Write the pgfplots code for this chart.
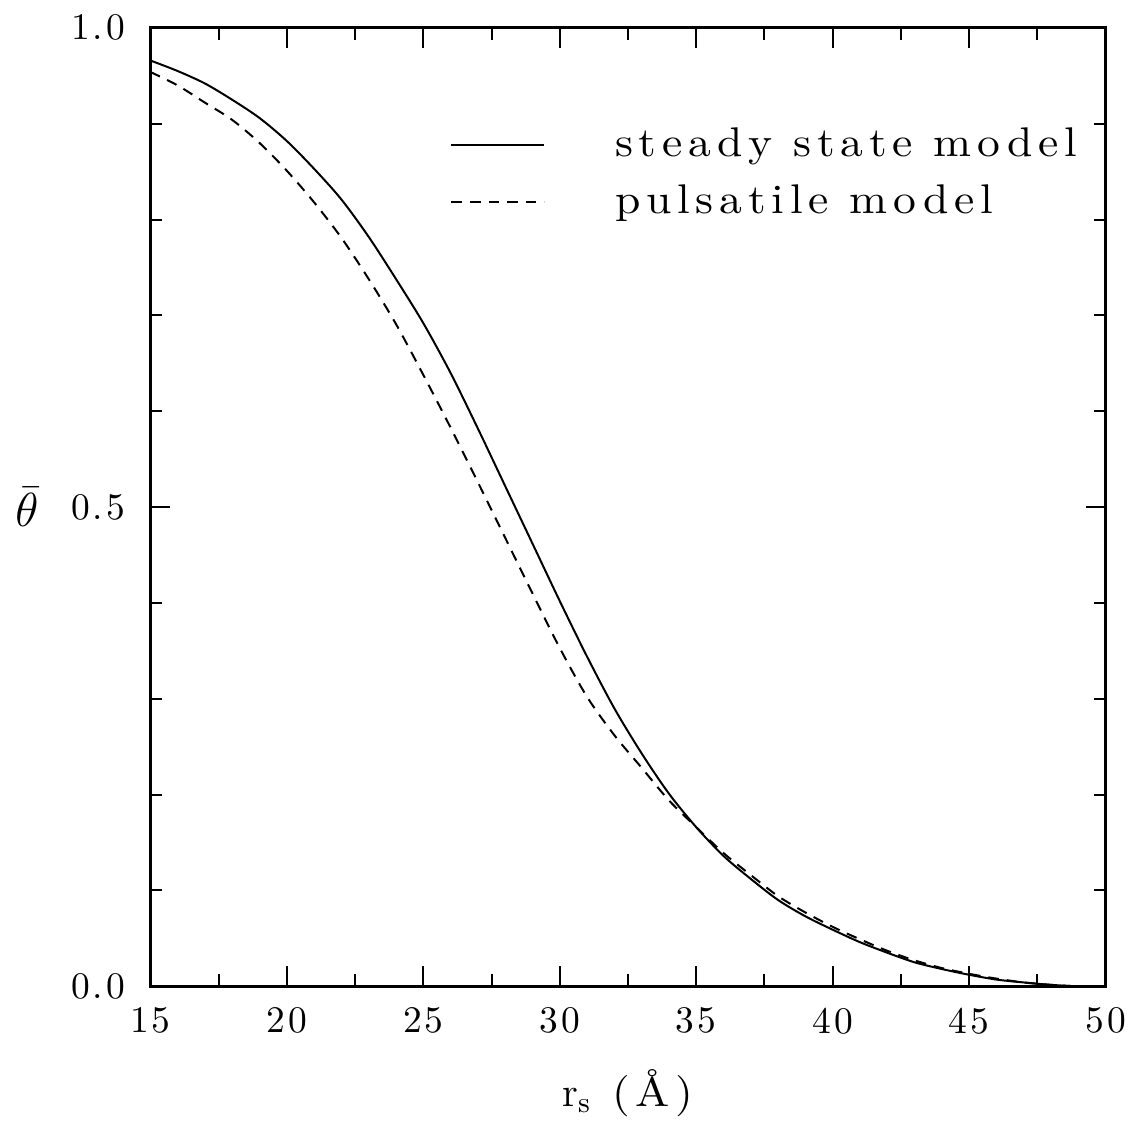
\documentclass[border=0pt]{standalone}
\usepackage{fontspec}
\newfontfamily\lsfont{lmroman10-regular}[Extension=.otf, LetterSpace=14, FakeStretch=1.1]
\newfontfamily\tkfont{lmroman10-regular}[Extension=.otf, LetterSpace=8]
\usepackage{pgfplots}
\pgfplotsset{compat=1.18}

\pgfplotstableread{
x y
15 0.966
16 0.955
17 0.942
18 0.925
19 0.906
20 0.882
21 0.853
22 0.821
23 0.782
24 0.738
25 0.692
26 0.640
27 0.582
28 0.522
29 0.462
30 0.402
31 0.344
32 0.290
33 0.243
34 0.201
35 0.166
36 0.136
37 0.112
38 0.090
39 0.073
40 0.059
41 0.046
42 0.035
43 0.025
44 0.018
45 0.012
46 0.007
47 0.004
48 0.0015
49 0.0
50 0.0
}\steady

\pgfplotstableread{
x y
15 0.954
16 0.940
17 0.922
18 0.904
19 0.880
20 0.851
21 0.818
22 0.781
23 0.738
24 0.691
25 0.638
26 0.583
27 0.526
28 0.468
29 0.410
30 0.353
31 0.302
32 0.262
33 0.228
34 0.194
35 0.166
36 0.139
37 0.116
38 0.094
39 0.077
40 0.062
41 0.049
42 0.037
43 0.027
44 0.019
45 0.013
46 0.008
47 0.004
48 0.0015
49 0.0
50 0.0
}\pulsatile

\begin{document}
\begin{tikzpicture}
\begin{axis}[
    name=ax,
    scale only axis,
    width=288pt,
    height=288.9pt,
    xmin=15, xmax=50,
    ymin=0, ymax=1,
    xtick={15,20,...,50},
    minor x tick num=1,
    ytick={0,0.5,1},
    minor ytick={0.1,0.2,0.3,0.4,0.6,0.7,0.8,0.9},
    tick align=inside,
    tick pos=both,
    xticklabel pos=left,
    yticklabel pos=left,
    major tick length=6pt,
    minor tick length=3.6pt,
    every tick/.style={black, line width=0.6pt},
    axis line style={line width=0.9pt},
    /pgf/number format/assume math mode=true,
    ticklabel style={font=\fontsize{11.3}{13}\selectfont\tkfont},
    yticklabel style={/pgf/number format/fixed, /pgf/number format/fixed zerofill,
        /pgf/number format/precision=1, anchor=east, xshift=-4.1pt},
    xticklabel style={anchor=north, yshift=-2.9pt},
    xlabel={$\mathrm{r_s}$ (Å)},
    xlabel style={at={(axis description cs:0.5,0)}, anchor=base, yshift=-36.3pt,
        font=\fontsize{12.5}{14}\selectfont\lsfont},
    legend style={draw=none, fill=none, at={(0.3135,0.903)}, anchor=north west,
        inner sep=0pt, row sep=3pt, font=\fontsize{12.5}{14}\selectfont\lsfont,
        /tikz/every odd column/.append style={column sep=19pt}},
    legend cell align=left,
    legend image code/.code={\draw[#1] (0pt,0pt) -- (28pt,0pt);},
]
\addplot[black, line width=0.6pt, smooth, tension=0.5] table {\steady};
\addplot[black, line width=0.6pt, smooth, tension=0.5, dash pattern=on 3.2pt off 2.4pt] table {\pulsatile};
\legend{steady state model, pulsatile model}
\end{axis}
\node[font=\fontsize{14}{16}\selectfont, xshift=-37.2pt, inner sep=0pt] at (ax.west) {$\bar\theta$};
\path (ax.south west) ++(-45.3pt,-39.9pt) (ax.north east) ++(7.8pt,8.4pt);
\end{tikzpicture}
\end{document}
